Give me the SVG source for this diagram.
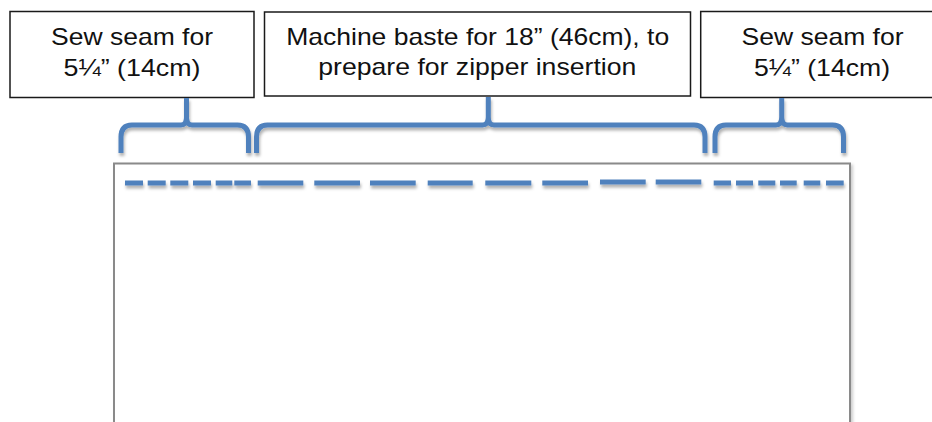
<svg xmlns="http://www.w3.org/2000/svg" width="932" height="422" viewBox="0 0 932 422">
<defs>
<style>
.box{fill:#fff;stroke:#1a1a1a;stroke-width:1.5}
.lbl{font-family:"Liberation Sans",Arial,sans-serif;font-size:24px;fill:#111;text-anchor:middle}
.brace{fill:none;stroke:#4f81bd;stroke-width:5;stroke-linejoin:round}
.stitch{fill:none;stroke:#4f81bd;stroke-width:5}
.panel{fill:#fff;stroke:#8a8a8a;stroke-width:2}
</style>
<filter id="sh" filterUnits="userSpaceOnUse" x="0" y="0" width="932" height="422">
<feDropShadow dx="1" dy="3" stdDeviation="1.5" flood-color="#000" flood-opacity="0.3"/>
</filter>
<filter id="sh2" filterUnits="userSpaceOnUse" x="0" y="0" width="932" height="422">
<feDropShadow dx="2" dy="2" stdDeviation="1.5" flood-color="#000" flood-opacity="0.2"/>
</filter>
</defs>
<rect width="932" height="422" fill="#fff"/>
<g id="panel">
<rect class="panel" x="114" y="163.5" width="736" height="300" filter="url(#sh2)"/>
</g>
<g id="label-left">
<rect class="box" x="10" y="11.5" width="244" height="86"/>
<text class="lbl" x="132" y="44.5" textLength="162" lengthAdjust="spacingAndGlyphs">Sew seam for</text>
<text class="lbl" x="132" y="76" textLength="137" lengthAdjust="spacingAndGlyphs">5¼” (14cm)</text>
</g>
<g id="label-middle">
<rect class="box" x="264.5" y="12" width="426" height="84"/>
<text class="lbl" x="477.7" y="45" textLength="383" lengthAdjust="spacingAndGlyphs">Machine baste for 18” (46cm), to</text>
<text class="lbl" x="477.3" y="75" textLength="318" lengthAdjust="spacingAndGlyphs">prepare for zipper insertion</text>
</g>
<g id="label-right">
<rect class="box" x="700.7" y="11.5" width="243" height="86"/>
<text class="lbl" x="822.5" y="44.5" textLength="162" lengthAdjust="spacingAndGlyphs">Sew seam for</text>
<text class="lbl" x="822" y="76" textLength="136" lengthAdjust="spacingAndGlyphs">5¼” (14cm)</text>
</g>
<g id="connectors" filter="url(#sh)">
<path class="brace" d="M121 153V137Q121 125 132 125H181Q186.5 125 186.5 117V98M186.5 117Q186.5 125 192 125H237.5Q248.5 125 248.5 137V153"/>
<path class="brace" d="M256.5 153V137Q256.5 125 267.5 125H482.5Q488.3 125 488.3 117V97M488.3 117Q488.3 125 494 125H694Q705 125 705 137V153"/>
<path class="brace" d="M715 153V137Q715 125 726 125H776Q781.7 125 781.7 117V98M781.7 117Q781.7 125 787.5 125H832.5Q843.5 125 843.5 137V153"/>
</g>
<g id="stitching" filter="url(#sh)">
<path class="stitch" d="M125 183H143M147.7 183H165.7M170.3 183H188.3M193 183H211M215.7 183H232.3M234.3 183H251M257.7 183H303.3M314.3 183H360M370 183H415.7M427.7 183H472.7M485.3 183H531.3M542.3 183H588M600 182H645.7M655.7 182H701.3M713.7 183H731M736 183H753M758.3 183H775.3M780 183H796.7M803.7 183H820.3M826 183H843.7"/>
</g>
</svg>
